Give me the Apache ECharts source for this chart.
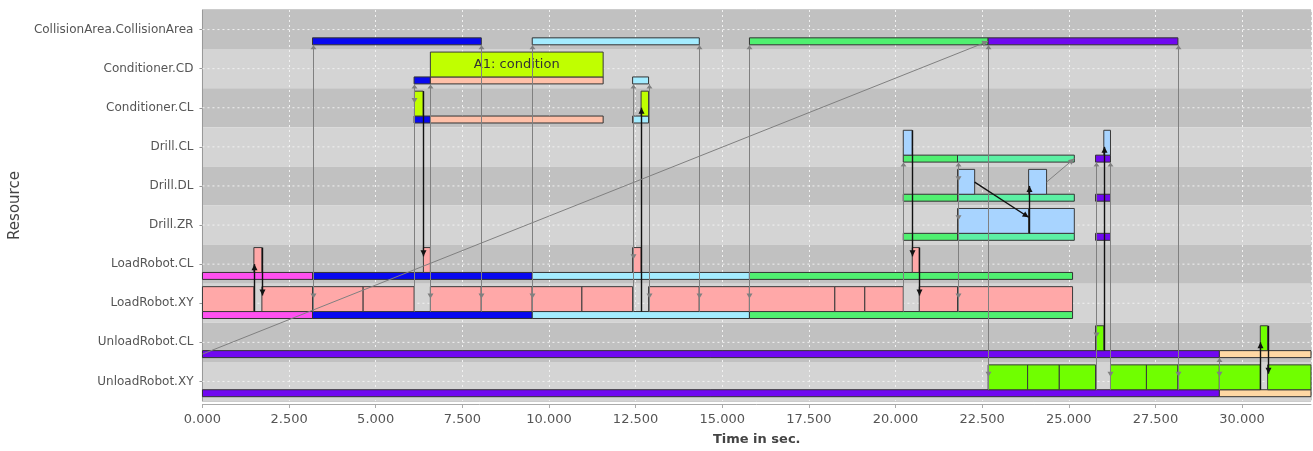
<!DOCTYPE html>
<html>
<head>
<meta charset="utf-8">
<script src="https://cdn.jsdelivr.net/npm/echarts@6/dist/echarts.min.js"></script>
<style>
html, body { margin: 0; padding: 0; background: #fff; }
#main { width: 1313px; height: 451px; }
</style>
</head>
<body>
<div id="main"></div>
<script>
// resources, top to bottom
var resources = ['CollisionArea.CollisionArea', 'Conditioner.CD', 'Conditioner.CL', 'Drill.CL', 'Drill.DL',
    'Drill.ZR', 'LoadRobot.CL', 'LoadRobot.XY', 'UnloadRobot.CL', 'UnloadRobot.XY'];
var timeMax = 31.99;

// status bars: [row, start, end, job]
var statusBars = [
    [0, 3.176, 8.047, 'p1'], [0, 9.517, 14.338, 'p2'], [0, 15.785, 22.673, 'p3'], [0, 22.673, 28.149, 'p4'],
    [1, 6.107, 6.577, 'p1'], [1, 6.577, 11.563, 'cond'], [1, 12.413, 12.874, 'p2'],
    [2, 6.107, 6.577, 'p1'], [2, 6.577, 11.563, 'cond'], [2, 12.413, 12.874, 'p2'],
    [3, 20.224, 21.789, 'p3'], [3, 21.789, 25.16, 'p3b'], [3, 25.772, 26.204, 'p4'],
    [4, 20.224, 21.789, 'p3'], [4, 21.789, 25.16, 'p3b'], [4, 25.772, 26.204, 'p4'],
    [5, 20.224, 21.789, 'p3'], [5, 21.789, 25.16, 'p3b'], [5, 25.772, 26.204, 'p4'],
    [6, 0, 3.176, 'p0'], [6, 3.176, 9.517, 'p1'], [6, 9.517, 15.785, 'p2'], [6, 15.785, 25.109, 'p3'],
    [7, 0, 3.176, 'p0'], [7, 3.176, 9.517, 'p1'], [7, 9.517, 15.785, 'p2'], [7, 15.785, 25.109, 'p3'],
    [8, 0, 29.346, 'p4'], [8, 29.346, 31.99, 'p5'],
    [9, 0, 29.346, 'p4'], [9, 29.346, 31.99, 'p5']
];

// activity boxes: [row, start, end, kind]
var boxes = [
    [1, 6.577, 11.563, 'cond'],
    [2, 6.118, 6.37, 'cond'], [2, 12.658, 12.874, 'cond'],
    [3, 20.224, 20.483, 'drill'], [3, 26.011, 26.204, 'drill'],
    [4, 21.789, 22.284, 'drill'], [4, 23.841, 24.359, 'drill'],
    [5, 21.789, 23.841, 'drill'], [5, 23.841, 25.16, 'drill'],
    [6, 1.484, 1.715, 'load'], [6, 6.376, 6.577, 'load'], [6, 12.413, 12.658, 'load'], [6, 20.483, 20.685, 'load'],
    [7, 0, 1.484, 'load'], [7, 1.715, 3.176, 'load'], [7, 3.176, 4.637, 'load'], [7, 4.637, 6.107, 'load'],
    [7, 6.577, 8.047, 'load'], [7, 8.047, 9.517, 'load'], [7, 9.517, 10.95, 'load'], [7, 10.95, 12.413, 'load'],
    [7, 12.874, 14.338, 'load'], [7, 14.338, 15.785, 'load'], [7, 15.785, 18.249, 'load'], [7, 18.249, 19.114, 'load'],
    [7, 19.114, 20.224, 'load'], [7, 20.685, 21.789, 'load'], [7, 21.789, 25.109, 'load'],
    [8, 25.772, 26.011, 'unload'], [8, 30.527, 30.738, 'unload'],
    [9, 22.673, 23.812, 'unload'], [9, 23.812, 24.726, 'unload'], [9, 24.726, 25.772, 'unload'],
    [9, 26.204, 27.241, 'unload'], [9, 27.241, 28.149, 'unload'], [9, 28.149, 29.346, 'unload'],
    [9, 29.346, 30.527, 'unload'], [9, 30.738, 31.99, 'unload']
];
var boxLabels = { 0: 'A1: condition' };

// gray drops: [time, fromRow, toRow, rows with a head]
var drops = [
    [3.176, 0, 7, [7]], [6.107, 1, 7, [2]], [6.577, 1, 7, [7]], [8.047, 0, 7, [7]],
    [9.517, 0, 7, [7]], [12.413, 1, 7, [6]], [12.874, 1, 7, [7]], [14.338, 0, 7, [7]],
    [15.785, 0, 7, [7]], [20.224, 3, 7, []], [21.789, 3, 7, [4, 5, 7]], [22.673, 0, 9, [9]],
    [25.772, 3, 9, [8]], [26.204, 3, 9, [9]], [28.149, 0, 9, [9]], [29.346, 8, 9, [9]]
];

// arrows: [t1, row1, anchor1, t2, row2, anchor2, ink]
var arrows = [
    [1.484, 7, 'low', 1.484, 6, 'mid', 'k'],
    [1.715, 6, 'top', 1.715, 7, 'head', 'k'],
    [6.36, 2, 'top', 6.36, 6, 'head', 'k'],
    [12.658, 7, 'low', 12.658, 2, 'mid', 'k'],
    [20.483, 3, 'top', 20.483, 6, 'head', 'k'],
    [20.685, 6, 'top', 20.685, 7, 'head', 'k'],
    [23.841, 5, 'low', 23.841, 4, 'mid', 'k'],
    [22.284, 4, 'upper', 23.841, 5, 'head', 'k'],
    [26.011, 8, 'low', 26.011, 3, 'mid', 'k'],
    [30.527, 9, 'low', 30.527, 8, 'mid', 'k'],
    [30.738, 8, 'top', 30.738, 9, 'head', 'k'],
    [24.359, 4, 'upper', 25.16, 3, 'barMid', 'g'],
    [0, 8, 'barMid', 22.673, 0, 'barMid', 'g']
];

var jobColor = { p0: '#ff50f0', p1: '#0808f0', p2: '#a4ecff', p3: '#50f070', p3b: '#5cf0a4',
    p4: '#7008f0', p5: '#ffd8a4', cond: '#ffc0a8' };
var boxColor = { cond: '#c0ff00', drill: '#a8d4ff', load: '#ffa8a8', unload: '#70ff00' };
var FR = { top: 0.076, head: 0.3, upper: 0.4, mid: 0.5, low: 0.712, barMid: 0.8, bar: 0.89 };
var GRAY = '#808080';

function yAt(api, row, frac) {
    var c = api.coord([0, row])[1];
    var band = api.size([0, 1])[1];
    return c - band / 2 + frac * band;
}

function head(x, y, dx, dy, len, wid, color) {
    var px = -dy, py = dx;
    return {
        type: 'polygon',
        shape: { points: [[x, y], [x - dx * len + px * wid / 2, y - dy * len + py * wid / 2],
            [x - dx * len - px * wid / 2, y - dy * len - py * wid / 2]] },
        style: { fill: color }
    };
}

var myChart = echarts.init(document.getElementById('main'));

var option = {
    animation: false,
    grid: { left: 201, right: 2, top: 10, bottom: 48, show: true, borderColor: '#999', borderWidth: 1 },
    xAxis: {
        type: 'value', min: 0, max: timeMax, interval: 2.5, offset: 3,
        name: 'Time in sec.', nameLocation: 'middle', nameGap: 29,
        nameTextStyle: { fontFamily: 'DejaVu Sans', fontSize: 13, fontWeight: 'bold', color: '#444' },
        axisLine: { show: true, lineStyle: { color: '#aaa' } },
        axisTick: { show: true, length: 4, lineStyle: { color: '#aaa' } },
        axisLabel: {
            fontFamily: 'DejaVu Sans', fontSize: 13, color: '#555', margin: 9, showMaxLabel: false,
            formatter: function (v) { return v.toFixed(3); }
        },
        splitLine: { show: true, lineStyle: { color: '#f2f2f2', type: [2, 3], width: 1 } }
    },
    yAxis: {
        type: 'category', inverse: true, data: resources,
        name: 'Resource', nameLocation: 'middle', nameGap: 178,
        nameTextStyle: { fontFamily: 'DejaVu Sans', fontSize: 15, color: '#444' },
        axisLine: { show: true, lineStyle: { color: '#999' } },
        axisTick: { show: true, alignWithLabel: true, length: 3, lineStyle: { color: '#999' } },
        axisLabel: { fontFamily: 'DejaVu Sans', fontSize: 12, color: '#555', margin: 9 },
        splitLine: { show: false },
        splitArea: { show: true, areaStyle: { color: ['#c1c1c1', '#d4d4d4'] } }
    },
    series: [
        {
            // dashed center line of each row
            type: 'custom', silent: true, z: 1,
            data: resources.map(function (r, i) { return [0, i]; }),
            encode: { x: 0, y: 1 },
            renderItem: function (params, api) {
                var cs = params.coordSys;
                var y = api.coord([0, api.value(1)])[1];
                return { type: 'line', shape: { x1: cs.x, y1: y, x2: cs.x + cs.width, y2: y },
                    style: { stroke: '#f2f2f2', lineWidth: 1, lineDash: [2, 3] } };
            }
        },
        {
            type: 'custom', z: 2,
            data: statusBars.map(function (b) { return [b[1], b[2], b[0]]; }),
            encode: { x: [0, 1], y: 2 },
            renderItem: function (params, api) {
                var b = statusBars[params.dataIndex];
                var x1 = api.coord([b[1], b[0]])[0], x2 = api.coord([b[2], b[0]])[0];
                var y1 = yAt(api, b[0], FR.low), y2 = yAt(api, b[0], FR.bar);
                return { type: 'rect', shape: { x: x1, y: y1, width: x2 - x1, height: y2 - y1 },
                    style: { fill: jobColor[b[3]], stroke: '#333', lineWidth: 1 } };
            }
        },
        {
            type: 'custom', z: 3,
            data: boxes.map(function (b) { return [b[1], b[2], b[0]]; }),
            encode: { x: [0, 1], y: 2 },
            renderItem: function (params, api) {
                var b = boxes[params.dataIndex];
                var x1 = api.coord([b[1], b[0]])[0], x2 = api.coord([b[2], b[0]])[0];
                var y1 = yAt(api, b[0], FR.top), y2 = yAt(api, b[0], FR.low);
                var el = { type: 'rect', shape: { x: x1, y: y1, width: x2 - x1, height: y2 - y1 },
                    style: { fill: boxColor[b[3]], stroke: '#3a3a3a', lineWidth: 1 } };
                var label = boxLabels[params.dataIndex];
                if (label) {
                    el.textContent = { style: { text: label, fill: '#333', fontFamily: 'DejaVu Sans', fontSize: 13 } };
                    el.textConfig = { position: 'inside' };
                }
                return el;
            }
        },
        {
            type: 'custom', z: 4, silent: true,
            data: drops.map(function (d) { return [d[0], d[1], d[2]]; }),
            encode: { x: 0, y: [1, 2] },
            renderItem: function (params, api) {
                var d = drops[params.dataIndex];
                var x = Math.round(api.coord([d[0], d[1]])[0]) + 0.5;
                var y1 = yAt(api, d[1], FR.bar), y2 = yAt(api, d[2], FR.low);
                var kids = [
                    { type: 'line', shape: { x1: x, y1: y1, x2: x, y2: y2 }, style: { stroke: GRAY, lineWidth: 1 } },
                    head(x, y1 + 0.5, 0, -1, 4, 6, GRAY)
                ];
                d[3].forEach(function (r) {
                    kids.push(head(x, yAt(api, r, FR.head) + 3, 0, 1, 5, 6, GRAY));
                });
                return { type: 'group', children: kids };
            }
        },
        {
            type: 'custom', z: 5, silent: true,
            data: arrows.map(function (a) { return [a[0], a[1], a[3], a[4]]; }),
            encode: { x: [0, 2], y: [1, 3] },
            renderItem: function (params, api) {
                var a = arrows[params.dataIndex];
                var x1 = api.coord([a[0], a[1]])[0], x2 = api.coord([a[3], a[4]])[0];
                if (a[0] === a[3]) { x1 = x2 = Math.round(x1) + 0.5; }
                var y1 = yAt(api, a[1], FR[a[2]]), y2 = yAt(api, a[4], FR[a[5]]);
                var dx = x2 - x1, dy = y2 - y1, L = Math.sqrt(dx * dx + dy * dy);
                var color = a[6] === 'k' ? '#111' : GRAY;
                return { type: 'group', children: [
                    { type: 'line', shape: { x1: x1, y1: y1, x2: x2, y2: y2 },
                        style: { stroke: color, lineWidth: a[6] === 'k' ? 1.4 : 1 } },
                    head(x2, y2, dx / L, dy / L, 6, 6, color)
                ] };
            }
        }
    ]
};

myChart.setOption(option);
</script>
</body>
</html>
